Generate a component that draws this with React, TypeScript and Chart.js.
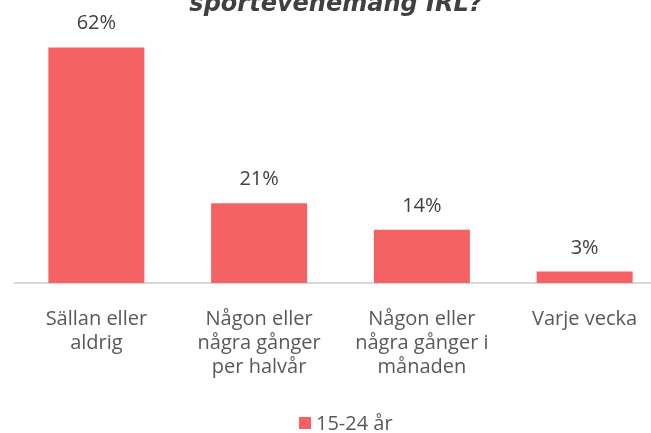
import React, { useEffect, useRef } from "react";
import { Chart, registerables } from "chart.js";

Chart.register(...registerables);

const titleText = "sportevenemang IRL?";
const categories: string[][] = [
  ["Sällan eller", "aldrig"],
  ["Någon eller", "några gånger", "per halvår"],
  ["Någon eller", "några gånger i", "månaden"],
  ["Varje vecka"],
];
const seriesLabel = "15-24 år";
const seriesValues = [62, 21, 14, 3];
const barColor = "#F56264";
const FONT = "'Open Sans', 'Liberation Sans', sans-serif";

const customPlugin = {
  id: "custom",
  afterDatasetsDraw(chart: any) {
    const ctx = chart.ctx;
    const meta = chart.getDatasetMeta(0);
    ctx.save();
    // value labels
    ctx.font = `20px ${FONT}`;
    ctx.fillStyle = "#404040";
    ctx.textAlign = "center";
    ctx.textBaseline = "alphabetic";
    meta.data.forEach((bar: any, i: number) => {
      ctx.fillText(seriesValues[i] + "%", bar.x, bar.y - 18);
    });
    // title (cut at top)
    ctx.font = `italic bold 24px 'DejaVu Sans', sans-serif`;
    ctx.fillStyle = "#404040";
    ctx.fillText(titleText, 336, 11);
    // legend
    ctx.font = `20px ${FONT}`;
    ctx.fillStyle = barColor;
    ctx.fillRect(299, 417, 12, 12);
    ctx.fillStyle = "#595959";
    ctx.textAlign = "left";
    ctx.textBaseline = "middle";
    ctx.fillText(seriesLabel, 316, 424);
    ctx.restore();
  },
};

export default function App() {
  const ref = useRef<HTMLCanvasElement>(null);
  useEffect(() => {
    if (!ref.current) return;
    const chart = new Chart(ref.current, {
      type: "bar",
      data: {
        labels: categories,
        datasets: [
          {
            label: seriesLabel,
            data: seriesValues,
            backgroundColor: barColor,
            categoryPercentage: 1,
            barPercentage: 0.59,
          },
        ],
      },
      options: {
        animation: false,
        responsive: false,
        maintainAspectRatio: false,
        layout: { padding: { left: 15, right: 0, top: 17, bottom: 30 } },
        plugins: {
          legend: { display: false },
          title: { display: false },
          tooltip: { enabled: false },
        },
        scales: {
          x: {
            grid: { display: false, drawTicks: false },
            border: { display: true, color: "#D9D9D9", width: 2 },
            ticks: {
              color: "#595959",
              font: { family: FONT, size: 20, lineHeight: "24px" } as any,
              padding: 24,
              maxRotation: 0,
              autoSkip: false,
            },
          },
          y: {
            display: false,
            min: 0,
            max: 70,
          },
        },
      },
      plugins: [customPlugin],
    });
    return () => chart.destroy();
  }, []);
  return (
    <div style={{ position: "fixed", left: 0, top: 0, width: 651, height: 433, overflow: "hidden", background: "#fff" }}>
      <canvas ref={ref} width={666} height={433} style={{ width: 666, height: 433, display: "block" }} />
    </div>
  );
}
